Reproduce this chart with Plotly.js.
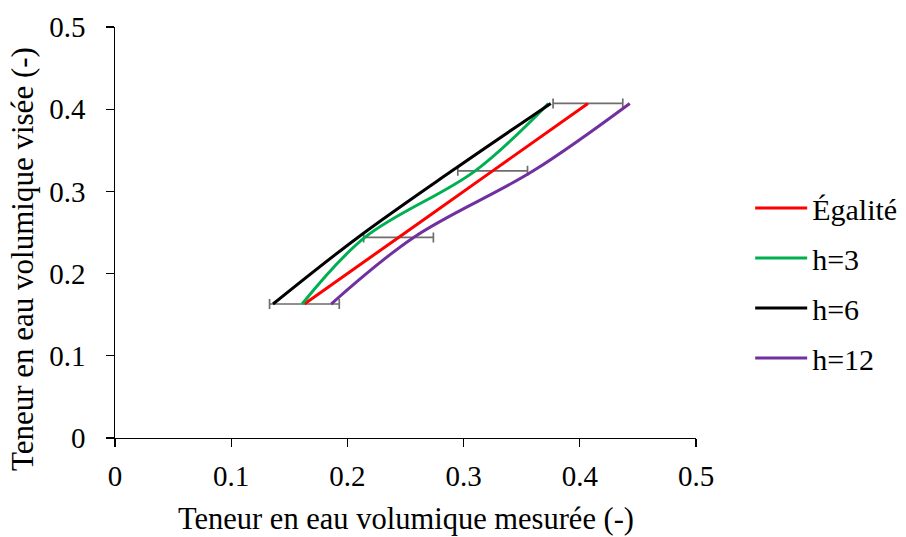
<!DOCTYPE html>
<html>
<head>
<meta charset="utf-8">
<script src="https://cdn.plot.ly/plotly-3.0.1.min.js"></script>
<style>
  html, body { margin: 0; padding: 0; background: #fff; }
  #chart { width: 906px; height: 537px; }
</style>
</head>
<body>
<div id="chart"></div>
<script>
// Target volumetric water content levels (y) shared by every series
const targetVals = [0.163, 0.244, 0.325, 0.407];
// Identity line: measured equals target
const egaliteX = [0.163, 0.244, 0.325, 0.407];
// Measured values for each h
const h3X = [0.161, 0.215, 0.310, 0.373];
const h6X = [0.136, 0.209, 0.290, 0.375];
const h12X = [0.186, 0.257, 0.360, 0.443];
// Symmetric uncertainty on the measured content
const measErr = [0.03, 0.03, 0.03, 0.03];

const seriesNames = ['Égalité', 'h=3', 'h=6', 'h=12'];
const seriesColors = ['#FF0000', '#00B050', '#000000', '#7030A0'];

const FONT = 'Liberation Serif';

function lineTrace(x, i, extra) {
  return Object.assign({
    type: 'scatter',
    mode: 'lines',
    x: x,
    y: targetVals,
    name: seriesNames[i],
    legendgroup: 'g' + i,
    line: { color: seriesColors[i], width: 3, shape: 'spline', smoothing: 1 }
  }, extra || {});
}

const traces = [
  lineTrace(egaliteX, 0, {
    error_x: {
      type: 'data', array: measErr, symmetric: true, visible: true,
      color: '#6E6E6E', thickness: 1.7, width: 5
    }
  }),
  lineTrace(h3X, 1),
  lineTrace(h6X, 2),
  lineTrace(h12X, 3)
];

const axisCommon = {
  range: [0, 0.5],
  dtick: 0.1,
  tick0: 0,
  ticks: 'outside',
  ticklen: 8,
  tickwidth: 1.3,
  tickcolor: '#000',
  showline: true,
  linecolor: '#000',
  linewidth: 1.3,
  showgrid: false,
  zeroline: false,
  automargin: false,
  fixedrange: true,
  tickfont: { family: FONT, size: 29, color: '#000' }
};

const layout = {
  width: 906,
  height: 537,
  margin: { l: 115, r: 210, t: 27, b: 99 },
  paper_bgcolor: '#fff',
  plot_bgcolor: '#fff',
  font: { family: FONT, color: '#000' },
  xaxis: Object.assign({}, axisCommon, { ticklabelstandoff: 4 }),
  yaxis: Object.assign({}, axisCommon, { ticksuffix: '\u2002' }),
  showlegend: true,
  legend: {
    xref: 'container', yref: 'container',
    x: 0.828, xanchor: 'left',
    y: 0.473, yanchor: 'middle',
    font: { family: FONT, size: 30, color: '#000' },
    traceorder: 'grouped',
    tracegroupgap: 8,
    itemwidth: 52,
    bgcolor: 'rgba(0,0,0,0)'
  },
  annotations: [
    {
      text: 'Teneur en eau volumique mesurée (-)',
      xref: 'paper', yref: 'paper',
      x: 0.5, y: -0.197, xanchor: 'center', yanchor: 'middle',
      showarrow: false,
      font: { family: FONT, size: 30.5, color: '#000' }
    },
    {
      text: 'Teneur en eau volumique visée (-)',
      xref: 'paper', yref: 'paper',
      x: -0.16, y: 0.4355, xanchor: 'center', yanchor: 'middle',
      textangle: -90,
      showarrow: false,
      font: { family: FONT, size: 31, color: '#000' }
    }
  ]
};

Plotly.newPlot('chart', traces, layout, { displayModeBar: false, staticPlot: true });
</script>
</body>
</html>
